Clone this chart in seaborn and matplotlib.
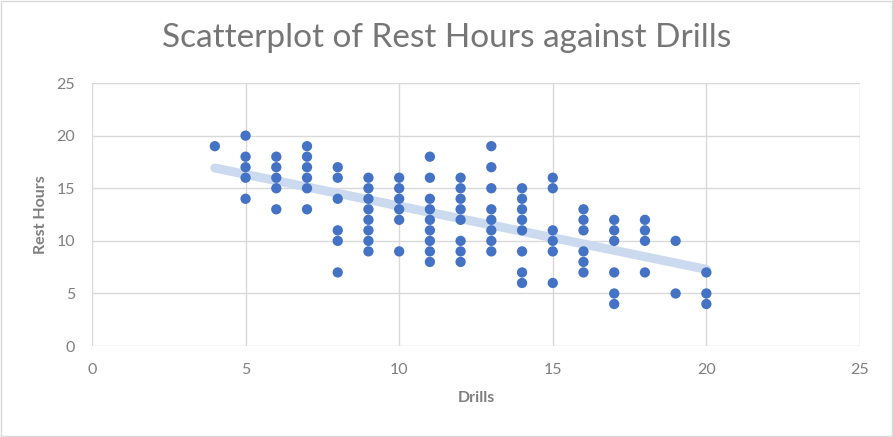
import numpy as np
import pandas as pd
import seaborn as sns
import matplotlib.pyplot as plt

# values, one list per Drills value
drills_vals = [4, 5, 6, 7, 8, 9, 10, 11, 12, 13, 14, 15, 16, 17, 18, 19, 20]
rest_by_drill = [
    [19],
    [20, 18, 17, 16, 14],
    [18, 17, 16, 15, 13],
    [19, 18, 17, 16, 15, 13],
    [17, 16, 14, 11, 10, 7],
    [16, 15, 14, 13, 12, 11, 10, 9],
    [16, 15, 14, 13, 12, 9],
    [18, 16, 14, 13, 12, 11, 10, 9, 8],
    [16, 15, 14, 13, 12, 10, 9, 8],
    [19, 17, 15, 13, 12, 11, 10, 9],
    [15, 14, 13, 12, 11, 9, 7, 6],
    [16, 15, 11, 10, 9, 6],
    [13, 12, 11, 9, 8, 7],
    [12, 11, 10, 7, 5, 4],
    [12, 11, 10, 7],
    [10, 5],
    [7, 5, 4],
]

drills = []
rest = []
for d, rs in zip(drills_vals, rest_by_drill):
    for r in rs:
        drills.append(d)
        rest.append(r)

df = pd.DataFrame({"Drills": drills, "Rest Hours": rest})

sns.set_theme(style="white")
plt.rcParams['font.family'] = ['Lato', 'DejaVu Sans']

grey = "#7F7F7F"
fig = plt.figure(figsize=(8.93, 4.37), dpi=100)
ax = fig.add_axes([0.103, 0.208, 0.860, 0.602])

sns.regplot(data=df, x="Drills", y="Rest Hours", scatter=False, ci=None, ax=ax,
            line_kws=dict(color="#CCDAF0", lw=6.5, solid_capstyle="round", zorder=2))
sns.scatterplot(data=df, x="Drills", y="Rest Hours", ax=ax, color="#4472C4",
                s=55, edgecolor="none", zorder=3)

ax.set_xlim(0, 25)
ax.set_ylim(0, 25)
ax.set_xticks(range(0, 26, 5))
ax.set_yticks(range(0, 26, 5))
ax.grid(True, color="#D9D9D9", lw=1)
ax.set_axisbelow(True)
for s in ax.spines.values():
    s.set_visible(False)
ax.tick_params(axis="both", colors=grey, labelsize=11.5, length=0)
ax.tick_params(axis="x", pad=12)
ax.tick_params(axis="y", pad=12)

ax.set_xlabel("Drills", color=grey, fontsize=11.5, fontweight="bold", labelpad=10)
ax.set_ylabel("Rest Hours", color=grey, fontsize=11.5, fontweight="bold", labelpad=6)

fig.text(0.5, 0.913, "Scatterplot of Rest Hours against Drills", ha="center", va="center",
         fontsize=24, color="#767676")

# thin outer border like the reference
fig.patches.append(plt.Rectangle((0.001, 0.002), 0.998, 0.996, transform=fig.transFigure,
                                 fill=False, edgecolor="#D9D9D9", lw=1))

fig.savefig("out.png", dpi=100)
